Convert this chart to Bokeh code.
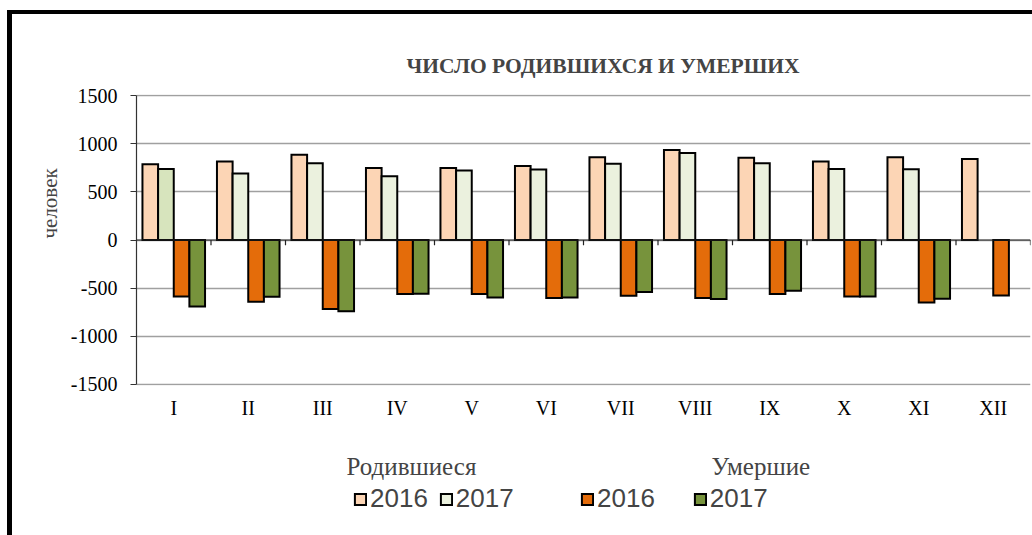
from bokeh.plotting import figure
from bokeh.models import (FactorRange, Range1d, ColumnDataSource, Span, Label, Legend,
                          LegendItem, FixedTicker, Title, PrintfTickFormatter)
from bokeh.layouts import column
from bokeh.transform import dodge
from bokeh.embed import file_html
from bokeh.resources import INLINE

NaN = float("nan")

months = ["I", "II", "III", "IV", "V", "VI", "VII", "VIII", "IX", "X", "XI", "XII"]
births_2016 = [786, 814, 886, 748, 748, 769, 859, 934, 855, 814, 859, 841]
births_2017 = [738, 690, 797, 662, 721, 731, 793, 903, 797, 738, 734, NaN]
deaths_2016 = [-586, -641, -717, -562, -562, -603, -579, -603, -562, -586, -648, -576]
deaths_2017 = [-690, -590, -741, -559, -597, -597, -541, -614, -528, -586, -610, NaN]
y_ticks = [-1500, -1000, -500, 0, 500, 1000, 1500]

title_text = "ЧИСЛО РОДИВШИХСЯ И УМЕРШИХ"
y_label = "человек"
group_births = "Родившиеся"
group_deaths = "Умершие"
year_labels = ["2016", "2017"]

C_B16 = "#FCD5B5"
C_B17 = "#EBF1DE"
C_B17_FIRST = "#D7E4BD"
C_D16 = "#E46C0A"
C_D17 = "#77933C"

b17_colors = [C_B17_FIRST] + [C_B17] * (len(months) - 1)

src = ColumnDataSource(data=dict(
    month=months, b16=births_2016, b17=births_2017,
    d16=deaths_2016, d17=deaths_2017, b17c=b17_colors,
))

SERIF = "Liberation Serif"
SANS = "Liberation Sans"

p = figure(x_range=FactorRange(*months, range_padding=0), y_range=Range1d(-1511, 1511),
           width=1020, height=430, output_backend="svg", toolbar_location=None,
           min_border_left=124, min_border_right=2, min_border_top=80, min_border_bottom=59)
p.outline_line_color = None
p.background_fill_color = "white"
p.border_fill_color = "white"

W = 0.21
common = dict(width=W, source=src, line_color="black", line_width=2, line_join="miter")
r1 = p.vbar(x=dodge("month", -0.315, range=p.x_range), top="b16", bottom=0, fill_color=C_B16, **common)
r2 = p.vbar(x=dodge("month", -0.105, range=p.x_range), top="b17", bottom=0, fill_color="b17c", **common)
r3 = p.vbar(x=dodge("month", 0.105, range=p.x_range), top="d16", bottom=0, fill_color=C_D16, **common)
r4 = p.vbar(x=dodge("month", 0.315, range=p.x_range), top="d17", bottom=0, fill_color=C_D17, **common)

# grid
p.xgrid.grid_line_color = None
p.ygrid.ticker = FixedTicker(ticks=y_ticks)
p.ygrid.grid_line_color = "#A0A0A0"
p.ygrid.grid_line_width = 1.5
p.ygrid.level = "underlay"

# zero axis line with category boundary ticks
zero = Span(location=0, dimension="width", line_color="#222222", line_width=1.2)
p.add_layout(zero)
bounds = list(range(1, len(months) + 1))
p.segment(x0=bounds, y0=[0] * len(bounds), x1=bounds, y1=[-55] * len(bounds),
          line_color="#222222", line_width=1.2)

# y axis
p.yaxis.ticker = FixedTicker(ticks=y_ticks)
p.yaxis.formatter = PrintfTickFormatter(format="%d")
p.yaxis.bounds = (-1500, 1500)
p.yaxis.axis_line_color = "#333333"
p.yaxis.axis_line_width = 1.2
p.yaxis.major_tick_line_color = "#333333"
p.yaxis.major_tick_out = 6
p.yaxis.major_tick_in = 0
p.yaxis.minor_tick_line_color = None
p.yaxis.major_label_text_font = SERIF
p.yaxis.major_label_text_font_size = "20px"
p.yaxis.major_label_text_color = "black"
p.yaxis.major_label_standoff = 13

# x axis
p.xaxis.axis_line_color = None
p.xaxis.major_tick_line_color = None
p.xaxis.minor_tick_line_color = None
p.xaxis.major_label_text_font = SERIF
p.xaxis.major_label_text_font_size = "20px"
p.xaxis.major_label_text_color = "black"
p.xaxis.major_label_standoff = 5

# title (above) and y label (left title)
p.add_layout(Title(text=title_text, align="left", offset=270, text_font=SERIF,
                   text_font_style="bold", text_font_size="21.5px", standoff=34), "above")
p.add_layout(Title(text=y_label, align="left", offset=147, text_font=SERIF,
                   text_font_style="normal", text_font_size="21px", standoff=12), "left")

# legend area (second canvas below the chart, frame aligned with the chart frame)
p2 = figure(x_range=Range1d(0, 894), y_range=Range1d(0, 91), width=1020, height=91,
            output_backend="svg", toolbar_location=None,
            min_border_left=124, min_border_right=2, min_border_top=0, min_border_bottom=0)
p2.axis.visible = False
p2.grid.visible = False
p2.outline_line_color = None
p2.border_fill_color = "white"

leg_common = dict(x=[NaN], top=[NaN], width=1, line_color="black", line_width=2, line_join="miter")
l1 = p2.vbar(fill_color=C_B16, **leg_common)
l2 = p2.vbar(fill_color=C_B17, **leg_common)
l3 = p2.vbar(fill_color=C_D16, **leg_common)
l4 = p2.vbar(fill_color=C_D17, **leg_common)

p2.add_layout(Label(x=210, y=69, text=group_births, text_font=SERIF, text_font_size="25px",
                    text_align="left", text_baseline="alphabetic"))
p2.add_layout(Label(x=575, y=69, text=group_deaths, text_font=SERIF, text_font_size="25px",
                    text_align="left", text_baseline="alphabetic"))

legend_style = dict(orientation="horizontal", padding=0, margin=0, border_line_color=None,
                    background_fill_alpha=0, glyph_width=14, glyph_height=14, label_standoff=3,
                    label_text_font=SANS, label_text_font_size="26px", label_height=26)
leg1 = Legend(items=[LegendItem(label=year_labels[0], renderers=[l1]),
                     LegendItem(label=year_labels[1], renderers=[l2])],
              location=(217, 21), spacing=11, **legend_style)
leg2 = Legend(items=[LegendItem(label=year_labels[0], renderers=[l3]),
                     LegendItem(label=year_labels[1], renderers=[l4])],
              location=(444, 21), spacing=38, **legend_style)
p2.add_layout(leg1)
p2.add_layout(leg2)

layout = column(p, p2, spacing=0,
                styles={"border-left": "5px solid black", "border-top": "4px solid black",
                        "margin-left": "7px", "margin-top": "10px"})

open("out.html", "w").write(file_html(layout, INLINE))
